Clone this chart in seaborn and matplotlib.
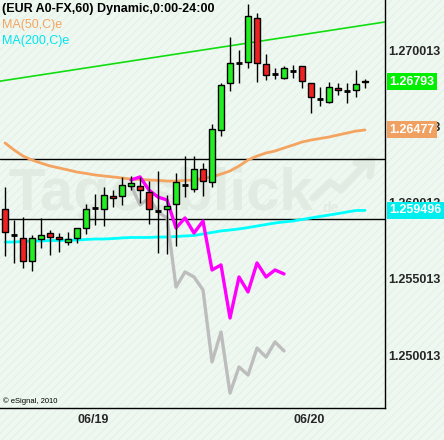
import numpy as np
import matplotlib
matplotlib.use('Agg')
import matplotlib.pyplot as plt
import matplotlib.patches as mpatches
import seaborn as sns

# ------------------------------------------------------------------
# data (EUR/USD hourly)
# ------------------------------------------------------------------
bar_idx = np.arange(41)

opens = [1.25959, 1.25788, 1.25769, 1.25618, 1.25762, 1.25801, 1.25775, 1.25742,
         1.25769, 1.25834, 1.25965, 1.25959, 1.26044, 1.26044, 1.26110, 1.26110,
         1.26070, 1.25946, 1.25959, 1.25992, 1.26116, 1.26090, 1.26221, 1.26136,
         1.26477, 1.26785, 1.26916, 1.26923, 1.27211, 1.26910, 1.26844, 1.26818,
         1.26864, 1.26896, 1.26785, 1.26680, 1.26660, 1.26752, 1.26732, 1.26739,
         1.26798]
highs = [1.26103, 1.25887, 1.25906, 1.25788, 1.25900, 1.25821, 1.25801, 1.25808,
         1.25834, 1.25992, 1.26057, 1.26103, 1.26083, 1.26169, 1.26175, 1.26169,
         1.26142, 1.26208, 1.26051, 1.26195, 1.26306, 1.26306, 1.26260, 1.26516,
         1.26785, 1.27087, 1.27001, 1.27303, 1.27244, 1.26975, 1.26883, 1.26896,
         1.26903, 1.26896, 1.26785, 1.26759, 1.26792, 1.26785, 1.26785, 1.26870,
         1.26811]
lows = [1.25651, 1.25605, 1.25572, 1.25552, 1.25703, 1.25657, 1.25677, 1.25723,
        1.25736, 1.25795, 1.25854, 1.25847, 1.25972, 1.25985, 1.26083, 1.25998,
        1.25860, 1.25670, 1.25664, 1.25716, 1.26037, 1.26070, 1.26044, 1.26103,
        1.26437, 1.26732, 1.26785, 1.26883, 1.26792, 1.26805, 1.26811, 1.26811,
        1.26818, 1.26752, 1.26588, 1.26634, 1.26654, 1.26706, 1.26654, 1.26693,
        1.26752]
closes = [1.25808, 1.25788, 1.25618, 1.25769, 1.25788, 1.25775, 1.25762, 1.25762,
          1.25834, 1.25959, 1.25965, 1.26051, 1.26031, 1.26116, 1.26129, 1.26083,
          1.25959, 1.25946, 1.25978, 1.26136, 1.26116, 1.26221, 1.26142, 1.26483,
          1.26772, 1.26916, 1.26916, 1.27224, 1.26916, 1.26837, 1.26844, 1.26883,
          1.26864, 1.26798, 1.26693, 1.26680, 1.26759, 1.26739, 1.26732, 1.26778,
          1.26793]

ma50 = [1.26392, 1.26346, 1.26306, 1.26280, 1.26260, 1.26241, 1.26228, 1.26215,
        1.26201, 1.26192, 1.26182, 1.26175, 1.26169, 1.26162, 1.26155, 1.26152,
        1.26149, 1.26146, 1.26142, 1.26142, 1.26146, 1.26149, 1.26159, 1.26169,
        1.26188, 1.26208, 1.26241, 1.26280, 1.26306, 1.26326, 1.26339, 1.26359,
        1.26378, 1.26398, 1.26411, 1.26421, 1.26431, 1.26444, 1.26457, 1.26470,
        1.26477]
ma200 = [1.25742, 1.25742, 1.25746, 1.25749, 1.25749, 1.25752, 1.25752, 1.25755,
         1.25755, 1.25759, 1.25762, 1.25762, 1.25765, 1.25769, 1.25772, 1.25772,
         1.25772, 1.25775, 1.25775, 1.25778, 1.25782, 1.25785, 1.25795, 1.25805,
         1.25815, 1.25821, 1.25828, 1.25837, 1.25847, 1.25857, 1.25867, 1.25874,
         1.25880, 1.25890, 1.25900, 1.25910, 1.25919, 1.25929, 1.25939, 1.25949,
         1.259496]

# comparison overlays (start at bar 14)
overlay_idx = np.arange(14, 32)
magenta_vals = [1.26149, 1.26169, 1.26083, 1.26037, 1.26018, 1.25834, 1.25900, 1.25801,
                1.25880, 1.25559, 1.25592, 1.25244, 1.25513, 1.25415, 1.25605, 1.25513,
                1.25559, 1.25533]
gray_vals = [1.26116, 1.25985, 1.26031, 1.25939, 1.25900, 1.25447, 1.25546, 1.25513,
             1.25428, 1.24956, 1.25152, 1.24752, 1.24923, 1.24870, 1.25047, 1.24988,
             1.25087, 1.25028]

trend_idx = [0, 40]
trend_vals = [1.26802, 1.27165]
hlines_vals = [1.26285, 1.25893]

yticks = [1.250013, 1.255013, 1.260013, 1.265013, 1.270013]
xtick_idx = [8, 32]
xtick_labels = ['06/19', '06/20']

last_close = 1.26793
last_ma50 = 1.26477
last_ma200 = 1.259496

# ------------------------------------------------------------------
sns.set_style('white')
plt.rcParams['font.family'] = ['Liberation Sans', 'DejaVu Sans']
plt.rcParams['hatch.linewidth'] = 0.6

BG = '#eef8f0'
GREEN = '#22ee22'
RED = '#ee2222'

fig = plt.figure(figsize=(4.44, 4.40), dpi=100, facecolor=BG)
fig.add_artist(mpatches.Rectangle((0, 0), 1, 1, transform=fig.transFigure,
                                  facecolor='none', edgecolor='#e1efe5',
                                  hatch='////', linewidth=0, zorder=-1))
ax = fig.add_axes([0, 32 / 440, 385 / 444, 408 / 440])
ax.set_facecolor('none')

# watermark
ax.text(8 / 385, (408 - 210) / 408, 'Tagesblick', transform=ax.transAxes,
        fontsize=43, fontweight='bold', color='#e1ebe1', va='baseline', ha='left', zorder=0)
ax.text(322 / 385, (408 - 212) / 408, 'de', transform=ax.transAxes,
        fontsize=10, fontweight='bold', color='#e1ebe1', va='baseline', ha='left', zorder=0)
ax.plot(np.array([313, 330, 341, 366]) / 385, (408 - np.array([198, 182, 190, 164])) / 408,
        transform=ax.transAxes, color='#e1ebe1', lw=5, solid_capstyle='round', zorder=0)
ax.plot(np.array([356, 372, 370]) / 385, (408 - np.array([163, 160, 176])) / 408,
        transform=ax.transAxes, color='#e1ebe1', lw=5, zorder=0)

# reference lines
for v in hlines_vals:
    ax.axhline(v, color='black', lw=1, zorder=1)
ax.axline((trend_idx[0], trend_vals[0]), (trend_idx[1], trend_vals[1]),
          color='#11dd11', lw=1.2, zorder=1)

# moving averages and overlays
sns.lineplot(x=bar_idx, y=ma50, color='#f4a460', lw=2, ax=ax, zorder=2)
sns.lineplot(x=bar_idx, y=ma200, color='#00ffff', lw=2, ax=ax, zorder=2)
sns.lineplot(x=overlay_idx, y=gray_vals, color='#bdbdbd', lw=2.4, ax=ax, zorder=2)
sns.lineplot(x=overlay_idx, y=magenta_vals, color='#ff00ff', lw=2.4, ax=ax, zorder=2)

# candles
o = np.array(opens)
c = np.array(closes)
ax.vlines(bar_idx, lows, highs, color='black', lw=1, zorder=3)
body = c != o
cols = np.where(c > o, GREEN, RED)
ax.bar(bar_idx[body], np.abs(c - o)[body], bottom=np.minimum(o, c)[body], width=0.72,
       color=cols[body], edgecolor='black', linewidth=1, zorder=4)
ax.hlines(c[~body], bar_idx[~body] - 0.38, bar_idx[~body] + 0.38, color='black', lw=2, zorder=4)

# axes
ax.set_xlim(-0.556, 42.22)
ax.set_ylim(1.246539, 1.273292)
ax.yaxis.tick_right()
ax.set_yticks(yticks)
ax.set_yticklabels([f'{t:.6f}' for t in yticks], fontsize=9, fontweight='bold')
ax.set_xticks(xtick_idx)
ax.set_xticklabels(xtick_labels, fontsize=9, fontweight='bold', ha='left')
ax.tick_params(axis='y', length=0, pad=2)
ax.tick_params(axis='x', length=2, direction='in', pad=4)
for s in ['top', 'left']:
    ax.spines[s].set_visible(False)
for s in ['right', 'bottom']:
    ax.spines[s].set_color('black')
    ax.spines[s].set_linewidth(1)

# last value boxes
for val, txt, col in [(last_close, '1.26793', '#00ee00'),
                      (last_ma50, '1.26477', '#f0a060'),
                      (last_ma200, '1.259496', '#00eeee')]:
    ax.annotate(txt, xy=(1.0, val), xycoords=('axes fraction', 'data'),
                xytext=(4, 0), textcoords='offset pixels', ha='left', va='center',
                fontsize=9, fontweight='bold', color='white', zorder=6,
                bbox=dict(boxstyle='square,pad=0.2', facecolor=col, edgecolor='none'),
                annotation_clip=False)

# header texts
fig.text(2 / 444, 1 - 9 / 440, '(EUR A0-FX,60) Dynamic,0:00-24:00', fontsize=9,
         fontweight='bold', color='black', va='center', ha='left')
fig.text(2 / 444, 1 - 25 / 440, 'MA(50,C)e', fontsize=9, color='#f4a460',
         va='center', ha='left')
fig.text(2 / 444, 1 - 41 / 440, 'MA(200,C)e', fontsize=9, color='#00e5ee',
         va='center', ha='left')
ax.text(3 / 385, (408 - 401) / 408, '\u00a9 eSignal, 2010', transform=ax.transAxes,
        fontsize=5.5, color='black', va='center', ha='left')

fig.savefig('out.png', dpi=100, facecolor=BG)
